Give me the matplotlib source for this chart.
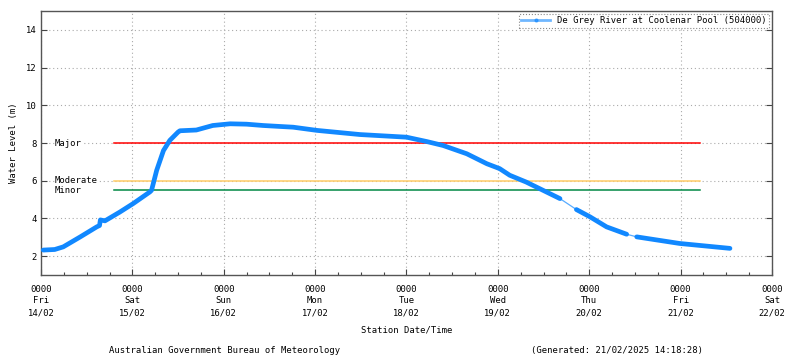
import matplotlib
matplotlib.use("Agg")
import matplotlib.pyplot as plt
import matplotlib.dates as mdates
import pandas as pd

# River level readings
times = [
    "2025-02-14 00:36", "2025-02-14 03:36", "2025-02-14 05:51", "2025-02-14 10:19",
    "2025-02-14 14:38", "2025-02-14 15:22", "2025-02-14 15:36", "2025-02-14 16:48",
    "2025-02-14 20:44", "2025-02-15 00:14", "2025-02-15 04:34", "2025-02-15 05:02",
    "2025-02-15 06:23", "2025-02-15 08:10", "2025-02-15 09:50", "2025-02-15 12:00",
    "2025-02-15 12:29", "2025-02-15 16:48", "2025-02-15 21:07", "2025-02-16 01:41",
    "2025-02-16 06:00", "2025-02-16 10:19", "2025-02-16 14:38", "2025-02-16 18:14",
    "2025-02-17 00:29", "2025-02-17 11:46", "2025-02-18 00:00", "2025-02-18 05:17",
    "2025-02-18 09:36", "2025-02-18 15:50", "2025-02-18 21:07", "2025-02-19 00:29",
    "2025-02-19 03:07", "2025-02-19 07:26", "2025-02-19 16:19", "2025-02-19 20:38",
    "2025-02-20 00:14", "2025-02-20 04:34", "2025-02-20 09:50", "2025-02-20 12:29",
    "2025-02-20 23:46", "2025-02-21 12:58",
]
levels = [
    2.32, 2.35, 2.49, 3.02,
    3.55, 3.62, 3.92, 3.87,
    4.34, 4.79, 5.40, 5.49,
    6.55, 7.60, 8.14, 8.58,
    8.65, 8.69, 8.93, 9.02,
    9.00, 8.93, 8.88, 8.84,
    8.67, 8.45, 8.31, 8.08,
    7.87, 7.43, 6.90, 6.64,
    6.29, 5.93, 5.05, 4.47,
    4.08, 3.55, 3.16, 3.02,
    2.67, 2.41,
]
# periods with missing readings (drawn as a thin joining line)
gaps = [("2025-02-19 16:19", "2025-02-19 20:38"),
        ("2025-02-20 09:50", "2025-02-20 12:29")]

flood_names = ["Major", "Moderate", "Minor"]
flood_levels = [8.0, 6.0, 5.5]
flood_colors = ["#ff0000", "#ffcc66", "#008844"]
flood_start = "2025-02-14 19:10"
flood_end = "2025-02-21 05:00"

station = "De Grey River at Coolenar Pool (504000)"
blue = "#1188ff"
fs = 6.4

plt.rcParams["font.family"] = ["DejaVu Sans Mono"]
plt.rcParams["font.size"] = fs

t = pd.to_datetime(times)
s = pd.Series(levels, index=t)

fig = plt.figure(figsize=(8.0, 3.58), dpi=100)
ax = fig.add_axes([0.05125, 0.232, 0.9137, 0.737])

# threshold lines
for name, lvl, col in zip(flood_names, flood_levels, flood_colors):
    ax.plot(pd.to_datetime([flood_start, flood_end]), [lvl, lvl], color=col,
            lw=1.1, zorder=3)
    ax.text(mdates.date2num(pd.Timestamp("2025-02-14 03:40")), lvl, name,
            va="center", ha="left", fontsize=fs, zorder=4,
            bbox=dict(facecolor="white", edgecolor="none", pad=0.3))

# thin line through everything, thick where readings are continuous
ax.plot(s.index, s.values, color=blue, lw=0.9, alpha=0.7, zorder=4)
cuts = [s.index[0]]
for a, b in gaps:
    cuts += [pd.Timestamp(a), pd.Timestamp(b)]
cuts.append(s.index[-1])
for i in range(0, len(cuts), 2):
    seg = s[(s.index >= cuts[i]) & (s.index <= cuts[i + 1])]
    ax.plot(seg.index, seg.values, color=blue, lw=3.4,
            solid_capstyle="round", solid_joinstyle="round", zorder=5)

# legend handle
ax.plot([], [], color=blue, lw=2.0, alpha=0.6, marker="o", markersize=2,
        markerfacecolor=blue, markeredgecolor=blue, label=station)
leg = ax.legend(loc="upper right", fontsize=fs, handlelength=3.2,
                borderpad=0.3, borderaxespad=0.3, fancybox=False,
                framealpha=1)
leg.get_frame().set_linestyle(":")
leg.get_frame().set_edgecolor("#888888")
leg.get_frame().set_linewidth(0.8)

ax.set_xlim(pd.Timestamp("2025-02-14"), pd.Timestamp("2025-02-22"))
ax.set_ylim(1, 15)
ax.set_yticks([2, 4, 6, 8, 10, 12, 14])
ax.xaxis.set_major_locator(mdates.DayLocator())
ax.xaxis.set_major_formatter(mdates.DateFormatter("%H%M\n%a\n%d/%m"))
ax.xaxis.set_minor_locator(mdates.HourLocator(byhour=[6, 12, 18]))
ax.tick_params(axis="both", which="major", direction="in", length=4,
               width=0.8, color="#444444", pad=3)
ax.tick_params(axis="x", which="major", pad=7)
ax.tick_params(axis="x", which="minor", direction="in", length=2.5,
               width=0.8, color="#444444")
ax.tick_params(axis="y", right=True)
for lab in ax.get_xticklabels():
    lab.set_linespacing(1.4)

ax.grid(True, which="major", color="#aaaaaa", linestyle=(0, (1, 2.5)),
        linewidth=0.8, zorder=0)
for sp in ax.spines.values():
    sp.set_color("#555555")
    sp.set_linewidth(1.0)

ax.set_ylabel("Water Level (m)", fontsize=fs, labelpad=6)
ax.set_xlabel("Station Date/Time", fontsize=fs, labelpad=6)

fig.text(0.281, 0.022, "Australian Government Bureau of Meteorology",
         ha="center", va="center", fontsize=fs)
fig.text(0.771, 0.022, "(Generated: 21/02/2025 14:18:28)",
         ha="center", va="center", fontsize=fs)

fig.savefig("out.png", dpi=100)
